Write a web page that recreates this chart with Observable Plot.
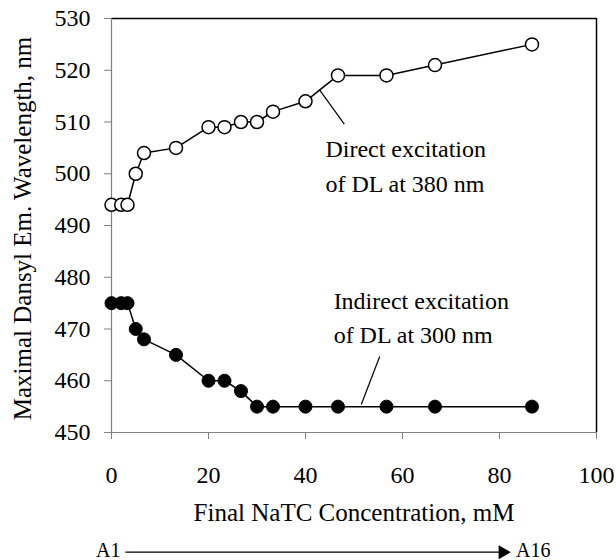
<!DOCTYPE html>
<html>
<head>
<meta charset="utf-8">
<script src="https://cdn.jsdelivr.net/npm/d3@7"></script>
<script src="https://cdn.jsdelivr.net/npm/@observablehq/plot@0.6"></script>
<style>
  html, body { margin: 0; padding: 0; background: #fff; }
  #chart svg { display: block; overflow: visible; }
  #chart svg, #chart svg text { font-family: "Liberation Serif", "Times New Roman", serif !important; }
</style>
</head>
<body>
<div id="chart"></div>
<script>
// Data
const conc = [0, 2, 3.3, 5, 6.7, 13.3, 20, 23.3, 26.7, 30, 33.3, 40, 46.7, 56.7, 66.7, 86.7];
const direct = [494, 494, 494, 500, 504, 505, 509, 509, 510, 510, 512, 514, 519, 519, 521, 525];
const indirect = [475, 475, 475, 470, 468, 465, 460, 460, 458, 455, 455, 455, 455, 455, 455, 455];
const xTicks = [0, 20, 40, 60, 80, 100];
const yTicks = [450, 460, 470, 480, 490, 500, 510, 520, 530];
const wells = ["A1", "A16"];
const xTitle = "Final NaTC Concentration, mM";
const yTitle = "Maximal Dansyl Em. Wavelength, nm";
const directLabel = "Direct excitation\nof DL at 380 nm";
const indirectLabel = "Indirect excitation\nof DL at 300 nm";

const rows = conc.map((c, i) => ({conc: c, direct: direct[i], indirect: indirect[i]}));
const font = "Liberation Serif, Times New Roman, serif";
const grey = "#808080";

const main = Plot.plot({
  width: 616,
  height: 530,
  marginLeft: 111,
  marginRight: 20,
  marginTop: 18,
  marginBottom: 98,
  style: {fontFamily: font, fontSize: "24px", background: "white", color: "black"},
  x: {domain: [0, 100]},
  y: {domain: [450, 530]},
  marks: [
    Plot.ruleY([530], {stroke: "black", strokeWidth: 1.5}),
    Plot.ruleX([100], {stroke: "black", strokeWidth: 1.5}),
    Plot.ruleX([0], {stroke: grey, strokeWidth: 1.2}),
    Plot.ruleY([450], {stroke: grey, strokeWidth: 1.2}),
    Plot.axisY(yTicks, {tickSize: 7, tickPadding: 14, fontSize: 24, fontFamily: font, label: null, stroke: grey, fill: "black"}),
    Plot.axisX(xTicks, {tickSize: 7, tickPadding: 26, fontSize: 24, fontFamily: font, label: null, stroke: grey, fill: "black"}),
    Plot.text([xTitle], {frameAnchor: "bottom", textAnchor: "middle", dy: 80, lineAnchor: "middle", fontSize: 25, fontFamily: font, fill: "black"}),
    Plot.text([yTitle], {frameAnchor: "left", textAnchor: "middle", rotate: -90, dx: -89, dy: 3, lineAnchor: "middle", fontSize: 25, fontFamily: font, fill: "black"}),
    // leader lines
    Plot.link([{x1: 42.9, y1: 516.2, x2: 48.0, y2: 509.6}], {x1: "x1", y1: "y1", x2: "x2", y2: "y2", stroke: "black", strokeWidth: 1.2}),
    Plot.link([{x1: 55.3, y1: 464.7, x2: 51.5, y2: 455.4}], {x1: "x1", y1: "y1", x2: "x2", y2: "y2", stroke: "black", strokeWidth: 1.2}),
    Plot.text([directLabel], {x: 44.1, y: 502.0, text: d => d, textAnchor: "start", lineAnchor: "middle", lineHeight: 1.46, fontSize: 24, fontFamily: font, fill: "black"}),
    Plot.text([indirectLabel], {x: 45.8, y: 472.6, text: d => d, textAnchor: "start", lineAnchor: "middle", lineHeight: 1.40, fontSize: 24, fontFamily: font, fill: "black"}),
    // series
    Plot.line(rows, {x: "conc", y: "direct", stroke: "black", strokeWidth: 1.5}),
    Plot.dot(rows, {x: "conc", y: "direct", r: 6.5, fill: "white", stroke: "black", strokeWidth: 1.5}),
    Plot.line(rows, {x: "conc", y: "indirect", stroke: "black", strokeWidth: 1.5}),
    Plot.dot(rows, {x: "conc", y: "indirect", r: 6.5, fill: "black", stroke: "black", strokeWidth: 1})
  ]
});

const first = conc[0], last = conc[conc.length - 1];
const bottom = Plot.plot({
  width: 616,
  height: 30,
  marginLeft: 111,
  marginRight: 20,
  marginTop: 0,
  marginBottom: 0,
  style: {fontFamily: font, fontSize: "20px", background: "white", color: "black"},
  x: {domain: [0, 100], axis: null},
  y: {domain: [-1, 1], axis: null},
  marks: [
    Plot.arrow([0], {x1: first, x2: last, y1: 0, y2: 0, headLength: 0, insetStart: 14.4, insetEnd: 33, stroke: "black", strokeWidth: 1.3, dy: 6.7}),
    Plot.dot([0], {x: last, y: 0, symbol: "triangle", rotate: 90, r: 5.2, fill: "black", stroke: "none", dx: -29.3, dy: 6.7}),
    Plot.text([wells[0]], {x: first, y: 0, text: d => d, textAnchor: "end", dx: 9, dy: 5.5, lineAnchor: "middle", fontSize: 20, fontFamily: font, fill: "black"}),
    Plot.text([wells[1]], {x: last, y: 0, text: d => d, textAnchor: "start", dx: -16, dy: 5.5, lineAnchor: "middle", fontSize: 20, fontFamily: font, fill: "black"})
  ]
});

document.getElementById("chart").append(main, bottom);
</script>
</body>
</html>
